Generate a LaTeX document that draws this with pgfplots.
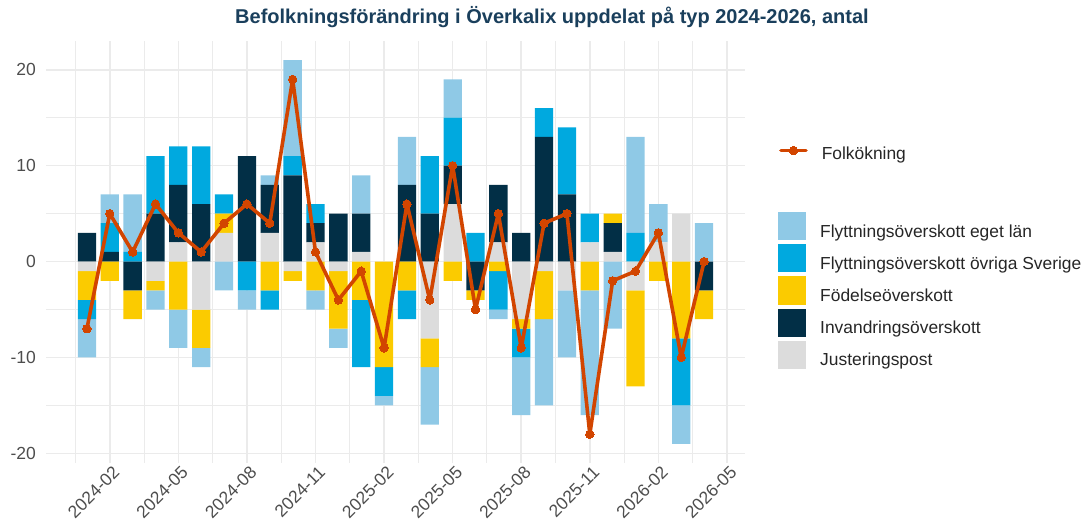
\documentclass[border=0pt]{standalone}
\usepackage{pgfplots}
\pgfplotsset{compat=1.18}
\usepackage{pgfplotstable}
\usepackage{fontspec}
\setmainfont{Liberation Sans}

\definecolor{cE}{HTML}{8FC9E6}
\definecolor{cO}{HTML}{00A9DF}
\definecolor{cF}{HTML}{FBCB00}
\definecolor{cI}{HTML}{022F46}
\definecolor{cJ}{HTML}{DCDCDC}
\definecolor{cL}{HTML}{D24500}
\definecolor{cT}{HTML}{1A3F5C}
\definecolor{cG}{HTML}{EBEBEB}
\definecolor{cTick}{HTML}{4D4D4D}

% m = month index (0 = 2024-01 ... 27 = 2026-04)
% p = positive part, n = negative part
% J = Justeringspost, I = Invandringsöverskott, F = Födelseöverskott,
% O = Flyttningsöverskott övriga Sverige, E = Flyttningsöverskott eget län
\pgfplotstableread{
m  Jp Ip Fp Op Ep  Jn In Fn  On En  tot
0  0  3  0  0  0   -1 0  -3  -2 -4  -7
1  0  1  0  3  3   0  0  -2  0  0   5
2  0  0  0  1  6   0  -3 -3  0  0   1
3  0  5  0  6  0   -2 0  -1  0  -2  6
4  2  6  0  4  0   0  0  -5  0  -4  3
5  0  6  0  6  0   -5 0  -4  0  -2  1
6  3  0  2  2  0   0  0  0   0  -3  4
7  0  11 0  0  0   0  0  0   -3 -2  6
8  3  5  0  0  1   0  0  -3  -2 0   4
9  0  9  0  2  10  -1 0  -1  0  0   19
10 2  2  0  2  0   0  0  -3  0  -2  1
11 0  5  0  0  0   -1 0  -6  0  -2  -4
12 1  4  0  0  4   0  0  -4  -7 0   -1
13 0  0  0  0  0   0  0  -11 -3 -1  -9
14 0  8  0  0  5   0  0  -3  -3 0   6
15 0  5  0  6  0   -8 0  -3  0  -6  -4
16 6  4  0  5  4   0  0  -2  0  0   10
17 0  0  0  3  0   0  -3 -1  0  0   -5
18 2  6  0  0  0   0  0  -1  -4 -1  5
19 0  3  0  0  0   -6 0  -1  -3 -6  -9
20 0  13 0  3  0   -1 0  -5  0  -9  4
21 0  7  0  7  0   -3 0  0   0  -7  5
22 2  0  0  3  0   0  0  -3  0  -13 -18
23 1  3  1  0  0   0  0  0   0  -7  -2
24 0  0  0  3  10  -3 0  -10 0  0   -1
25 2  0  0  0  4   0  0  -2  0  0   3
26 5  0  0  0  0   0  0  -8  -7 -4  -10
27 0  0  0  0  4   0  -3 -3  0  0   0
}\data

\pgfplotsset{
  base/.style={
    scale only axis, width=699pt, height=422pt,
    at={(46pt,66pt)}, anchor=south west,
    xmin=-1.79, xmax=28.79, ymin=-21, ymax=23,
    axis line style={draw=none}, tick style={draw=none},
  },
}

\begin{document}
\begin{tikzpicture}
\path[use as bounding box] (0,0) rectangle (1086pt,529pt);

% --- axis A: grid, ticks, positive parts, fill legend
\begin{axis}[base,
  ybar stacked, bar width=0.8,
  grid=both,
  major grid style={cG, line width=1.6pt},
  minor grid style={cG, line width=1.1pt},
  xtick={1,4,...,28},
  xticklabels={2024-02,2024-05,2024-08,2024-11,2025-02,2025-05,2025-08,2025-11,2026-02,2026-05},
  minor xtick={-0.5,2.5,...,26.5},
  ytick={-20,-10,0,10,20},
  yticklabels={-20,-10,0,10,20},
  minor ytick={-15,-5,5,15},
  ticklabel style={font=\fontsize{17.5}{20}\selectfont, text=cTick},
  xticklabel style={rotate=45, anchor=north east, inner sep=0pt, yshift=-3pt},
  yticklabel style={anchor=east, inner sep=0pt, xshift=-10pt},
  reverse legend,
  legend image code/.code={\fill[#1] (0pt,-8.4pt) rectangle (28pt,19.6pt);},
  legend style={at={(1.0472,0.5948)}, anchor=north west, draw=none, fill=none,
    font=\fontsize{17.4}{20}\selectfont, text=black!85,
    row sep=3.5pt, column sep=12pt, inner sep=0pt,
    nodes={inner sep=2pt}},
  legend cell align=left,
]
\addplot[fill=cJ, draw=none] table[x=m, y=Jp] {\data};
\addplot[fill=cI, draw=none] table[x=m, y=Ip] {\data};
\addplot[fill=cF, draw=none] table[x=m, y=Fp] {\data};
\addplot[fill=cO, draw=none] table[x=m, y=Op] {\data};
\addplot[fill=cE, draw=none] table[x=m, y=Ep] {\data};
\legend{Justeringspost, Invandringsöverskott, Födelseöverskott, Flyttningsöverskott övriga Sverige, Flyttningsöverskott eget län}
\end{axis}

% --- axis B: negative parts
\begin{axis}[base, hide axis,
  ybar stacked, bar width=0.8,
]
\addplot[fill=cJ, draw=none] table[x=m, y=Jn] {\data};
\addplot[fill=cI, draw=none] table[x=m, y=In] {\data};
\addplot[fill=cF, draw=none] table[x=m, y=Fn] {\data};
\addplot[fill=cO, draw=none] table[x=m, y=On] {\data};
\addplot[fill=cE, draw=none] table[x=m, y=En] {\data};
\end{axis}

% --- axis C: total line
\begin{axis}[base, hide axis,
  legend image code/.code={\draw[#1, mark repeat=2, mark phase=2] plot coordinates {(0pt,3.5pt) (12.5pt,3.5pt) (25pt,3.5pt)};},
  legend style={at={(1.0486,0.7322)}, anchor=west, draw=none, fill=none,
    font=\fontsize{17.4}{20}\selectfont, text=black!85,
    column sep=12pt, inner sep=0pt, nodes={inner sep=2pt}},
]
\addplot[cL, line width=3.6pt, line join=round, line cap=round, mark=*, mark size=4.2pt, mark options={fill=cL, draw=cL, line width=0pt}] table[x=m, y=tot] {\data};
\legend{Folkökning}
\end{axis}

\node[font=\fontsize{20}{24}\selectfont\bfseries, text=cT] at (552pt,512pt) {Befolkningsförändring i Överkalix uppdelat på typ 2024-2026, antal};
\end{tikzpicture}
\end{document}
